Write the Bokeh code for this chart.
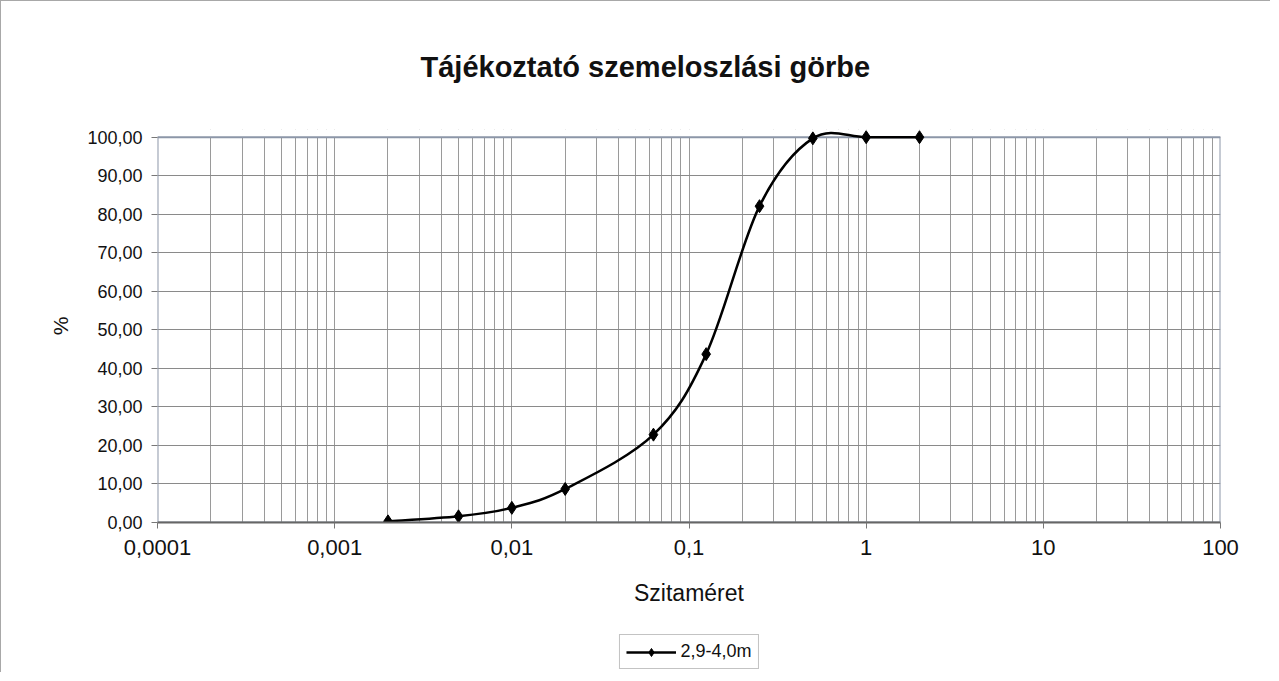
import math
from bokeh.plotting import figure
from bokeh.layouts import column
from bokeh.models import FixedTicker, Legend, LegendItem, Range1d
from bokeh.embed import file_html
from bokeh.resources import INLINE

# ---------------- data ----------------
title_text = "Tájékoztató szemeloszlási görbe"
x_label = "Szitaméret"
y_label = "%"
series_name = "2,9-4,0m"

sieve_sizes = [0.002, 0.005, 0.01, 0.02, 0.063, 0.125, 0.25, 0.5, 1, 2]
passing = [0.3, 1.6, 3.8, 8.7, 22.8, 43.7, 82.1, 99.7, 100.0, 100.0]

x_ticks = [0.0001, 0.001, 0.01, 0.1, 1, 10, 100]
x_tick_labels = ["0,0001", "0,001", "0,01", "0,1", "1", "10", "100"]
y_ticks = [0, 10, 20, 30, 40, 50, 60, 70, 80, 90, 100]
y_tick_labels = ["0,00", "10,00", "20,00", "30,00", "40,00", "50,00",
                 "60,00", "70,00", "80,00", "90,00", "100,00"]

FONT = "Liberation Sans"
GRID = "#9a9a9a"
FRAME = "#8c96a8"

x_minor = [d * k for d in x_ticks[:-1] for k in range(2, 10)]

p = figure(width=1270, height=612, x_axis_type="log",
           x_range=Range1d(x_ticks[0], x_ticks[-1]),
           y_range=Range1d(0, 102),
           output_backend="svg", toolbar_location=None,
           min_border_left=156, min_border_right=51,
           min_border_top=128, min_border_bottom=91,
           background_fill_color="white", border_fill_color="white")
p.outline_line_color = None
p.styles = {"border-left": "1px solid #a8a8a8", "border-top": "1px solid #a8a8a8"}

# title
p.title.text = title_text
p.title.align = "left"
p.title.offset = 263
p.title.text_font = FONT
p.title.text_font_size = "29px"
p.title.text_font_style = "bold"
p.title.text_color = "#111111"
p.title.standoff = 94

# x axis
xa = p.xaxis[0]
xa.ticker = FixedTicker(ticks=x_ticks, minor_ticks=x_minor)
xa.major_label_overrides = {t: l for t, l in zip(x_ticks, x_tick_labels)}
xa.major_label_text_font = FONT
xa.major_label_text_font_size = "22px"
xa.major_label_text_color = "#111111"
xa.major_label_standoff = 11
xa.major_tick_out = 6
xa.major_tick_in = 0
xa.minor_tick_line_color = None
xa.major_tick_line_color = "#777777"
xa.axis_line_color = "#666666"
xa.axis_line_width = 2
xa.axis_label = x_label
xa.axis_label_text_font = FONT
xa.axis_label_text_font_size = "23px"
xa.axis_label_text_font_style = "normal"
xa.axis_label_text_color = "#111111"
xa.axis_label_standoff = 22

# y axis
ya = p.yaxis[0]
ya.ticker = FixedTicker(ticks=y_ticks)
ya.major_label_overrides = {t: l for t, l in zip(y_ticks, y_tick_labels)}
ya.major_label_text_font = FONT
ya.major_label_text_font_size = "18px"
ya.major_label_text_color = "#111111"
ya.major_label_standoff = 9
ya.major_tick_out = 6
ya.major_tick_in = 0
ya.minor_tick_line_color = None
ya.major_tick_line_color = "#777777"
ya.axis_line_color = None
ya.axis_label = y_label
ya.axis_label_text_font = FONT
ya.axis_label_text_font_size = "21px"
ya.axis_label_text_font_style = "normal"
ya.axis_label_text_color = "#111111"
ya.axis_label_standoff = 12

# grids
p.xgrid.ticker = FixedTicker(ticks=x_ticks, minor_ticks=x_minor)
p.xgrid.grid_line_color = GRID
p.xgrid.minor_grid_line_color = GRID
p.xgrid.grid_line_width = 1
p.xgrid.minor_grid_line_width = 1
p.ygrid.ticker = FixedTicker(ticks=y_ticks)
p.ygrid.grid_line_color = "#8a8a8a"
p.ygrid.grid_line_width = 1

# mask above 100 and plot-area frame
p.quad(left=[x_ticks[0]], right=[x_ticks[-1]], bottom=[y_ticks[-1]], top=[102],
       fill_color="white", line_color=None)
p.quad(left=[x_ticks[0]], right=[x_ticks[-1]], bottom=[y_ticks[0]], top=[y_ticks[-1]],
       fill_color=None, line_color=FRAME, line_width=2)

# smoothed curve (cubic Bezier segments through the data points, in log space)
u = [math.log10(v) for v in sieve_sizes]
n = len(u)
bz = {k: [] for k in ("x0", "y0", "x1", "y1", "cx0", "cy0", "cx1", "cy1")}
for i in range(n - 1):
    im1 = max(i - 1, 0)
    ip2 = min(i + 2, n - 1)
    bz["x0"].append(sieve_sizes[i]); bz["y0"].append(passing[i])
    bz["x1"].append(sieve_sizes[i + 1]); bz["y1"].append(passing[i + 1])
    bz["cx0"].append(10 ** (u[i] + (u[i + 1] - u[im1]) / 6.0))
    bz["cy0"].append(passing[i] + (passing[i + 1] - passing[im1]) / 6.0)
    bz["cx1"].append(10 ** (u[i + 1] - (u[ip2] - u[i]) / 6.0))
    bz["cy1"].append(passing[i + 1] - (passing[ip2] - passing[i]) / 6.0)

line_style = dict(line_color="#000000", line_width=2.5)
mark_style = dict(marker="diamond", size=13, fill_color="#000000", line_color="#000000")

p.bezier(**bz, **line_style)
p.scatter(sieve_sizes, passing, **mark_style)

# ---------------- legend strip below the chart ----------------
lg = figure(width=1270, height=60,
            x_range=Range1d(10, 20), y_range=Range1d(200, 300),
            x_axis_location=None, y_axis_location=None,
            output_backend="svg", toolbar_location=None,
            min_border_left=156, min_border_right=51,
            min_border_top=22, min_border_bottom=2,
            background_fill_color="white", border_fill_color="white")
lg.outline_line_color = None
lg.grid.visible = False
lg.styles = {"border-left": "1px solid #a8a8a8"}
lg_curve = lg.bezier(**bz, **line_style)
lg_marks = lg.scatter(sieve_sizes, passing, **mark_style)

legend = Legend(items=[LegendItem(label=series_name, renderers=[lg_curve, lg_marks])],
                location="top_center", orientation="horizontal",
                margin=0, padding=6, label_standoff=5,
                glyph_width=50, glyph_height=20,
                label_text_font=FONT, label_text_font_size="18px",
                label_text_color="#111111",
                border_line_color="#888888", border_line_width=1,
                background_fill_color="white", background_fill_alpha=1)
lg.add_layout(legend)

layout = column(p, lg, spacing=0)
open("out.html", "w").write(file_html(layout, INLINE))
